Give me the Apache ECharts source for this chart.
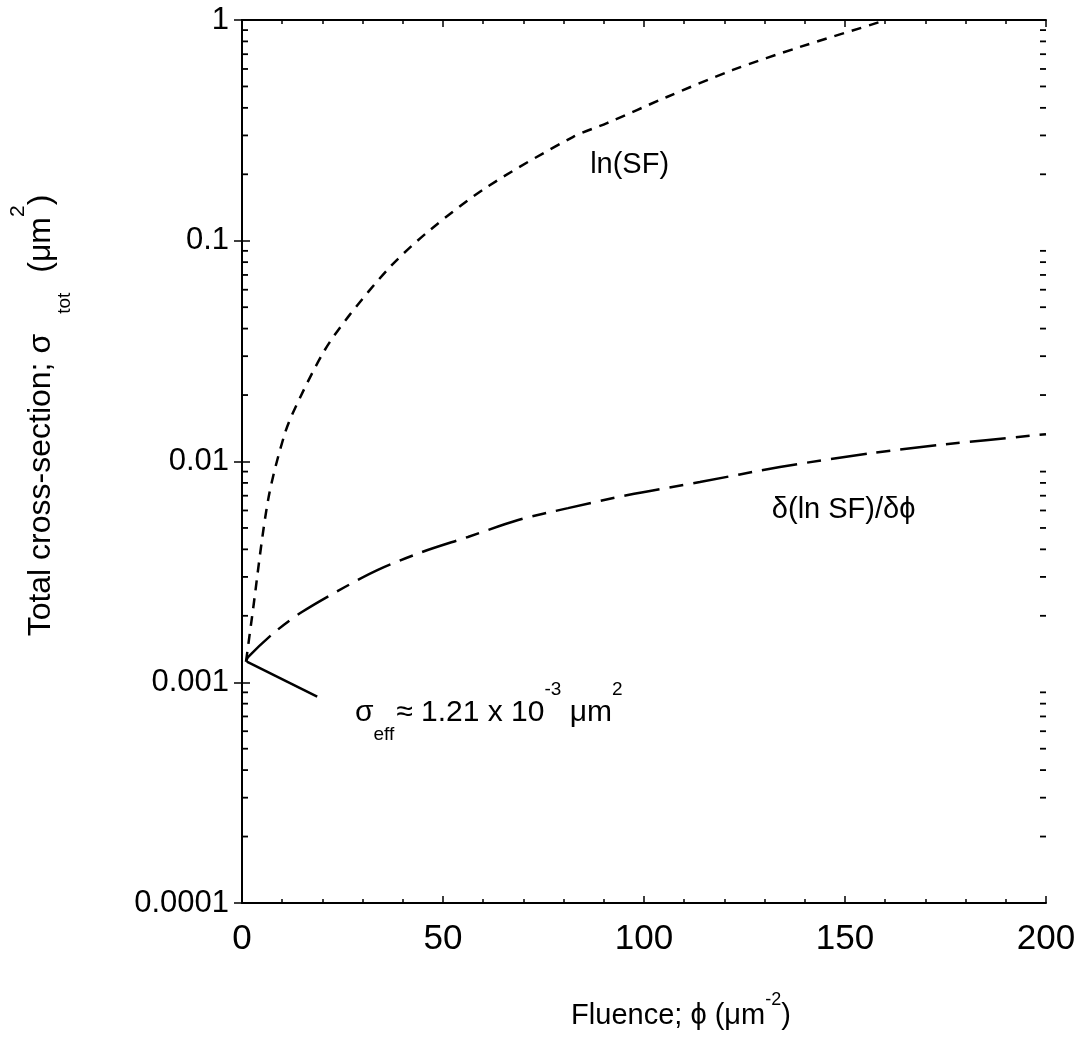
<!DOCTYPE html>
<html><head><meta charset="utf-8">
<script src="https://cdn.jsdelivr.net/npm/echarts@6/dist/echarts.min.js"></script>
<style>html,body{margin:0;padding:0;background:#fff}#c{width:1088px;height:1052px}</style>
</head><body><div id="c"></div>
<script>
// ---- data ----
const lnSF_x = [1, 2.5, 6.5, 10.7, 14.4, 20.6, 26.4, 36.8, 46.8, 60.9, 82.3, 90.8, 105.7, 122.1, 138.8, 158.7, 159.7];
const lnSF_y = [0.00124, 0.00198, 0.0067, 0.01346, 0.0194, 0.032, 0.0452, 0.076, 0.112, 0.175, 0.295, 0.341, 0.448, 0.594, 0.755, 0.98, 1.0];
const deriv_x = [1, 1.5, 8.2, 14.9, 25.6, 33.8, 44.8, 56.2, 68.7, 81.1, 96.0, 113.9, 133.8, 157.0, 173.6, 200];
const deriv_y = [0.00124, 0.0013, 0.00169, 0.00208, 0.0027, 0.00323, 0.00389, 0.00455, 0.00543, 0.00615, 0.00705, 0.00807, 0.00944, 0.01094, 0.01189, 0.0133];
const effLine_x = [1.2, 18.7];
const effLine_y = [0.00124, 0.00086];
const xTickLabels = ['0', '50', '100', '150', '200'];
const yTickValues = [0.0001, 0.001, 0.01, 0.1, 1];
const yTickLabels = ['0.0001', '0.001', '0.01', '0.1', '1'];
const yMinorMultipliers = [2, 3, 4, 5, 6, 7, 8, 9];
const yDecades = [0.0001, 0.001, 0.01, 0.1];
// annotation anchors (data coordinates)
const lnSFLabel = {x: 86.6, y: 0.22, text: 'ln(SF)'};
const derivLabel = {x: 131.8, y: 0.00603, text: 'δ(ln SF)/δϕ'};
const effLabel = {x: 28.1, y: 0.00073};

const yMinor = [];
yDecades.forEach(d => yMinorMultipliers.forEach(m => {
  const v = +(d * m).toPrecision(3);
  yMinor.push([0, v]);
  yMinor.push([200, v]);
}));

const FONT = '"Liberation Sans", Arial, Helvetica, sans-serif';
const chart = echarts.init(document.getElementById('c'), null, {renderer: 'canvas'});

const axisCommon = {
  axisLine: {show: true, lineStyle: {color: '#000', width: 2}},
  splitLine: {show: false},
};

const option = {
  backgroundColor: '#fff',
  animation: false,
  grid: {left: 242, right: 42, top: 20, bottom: 149, containLabel: false, outerBoundsMode: 'none'},
  xAxis: [{
    type: 'value', min: 0, max: 200, interval: 50, position: 'bottom',
    ...axisCommon,
    axisTick: {show: true, inside: true, length: 7, lineStyle: {color: '#000', width: 1.5}},
    minorTick: {show: true, splitNumber: 5, length: 4, lineStyle: {color: '#000', width: 1.5}},
    axisLabel: {
      margin: 19, fontSize: 35, color: '#000', fontFamily: FONT,
      formatter: (v) => xTickLabels[Math.round(v / 50)]
    },
    name: '{n|Fluence; ϕ (μm}{sup|-2}{n|)}',
    nameLocation: 'middle', nameGap: 88,
    nameTextStyle: {
      fontFamily: FONT, color: '#000', padding: [0, 0, 0, 74],
      rich: {
        n: {fontSize: 29, fontFamily: FONT, color: '#000', lineHeight: 50, verticalAlign: 'middle'},
        sup: {fontSize: 18, fontFamily: FONT, color: '#000', lineHeight: 34, verticalAlign: 'top'}
      }
    }
  }, {
    type: 'value', min: 0, max: 200, interval: 50, position: 'top',
    ...axisCommon,
    axisTick: {show: true, inside: true, length: 7, lineStyle: {color: '#000', width: 1.5}},
    minorTick: {show: true, splitNumber: 5, length: 4, lineStyle: {color: '#000', width: 1.5}},
    axisLabel: {show: false}
  }],
  yAxis: [{
    type: 'log', logBase: 10, min: 0.0001, max: 1, position: 'left',
    ...axisCommon,
    axisTick: {show: true, inside: true, length: 8, lineStyle: {color: '#000', width: 1.5}},
    axisLabel: {
      margin: 13, fontSize: 31, color: '#000', fontFamily: FONT,
      formatter: (v) => {
        const i = yTickValues.findIndex(t => Math.abs(Math.log10(t) - Math.log10(v)) < 1e-6);
        return i >= 0 ? yTickLabels[i] : '';
      }
    },
    name: '{n|Total cross-section; σ}{sub|tot}{n|(μm}{sup|2}{n|)}',
    nameLocation: 'middle', nameGap: 168, nameRotate: 90,
    nameTextStyle: {
      fontFamily: FONT, color: '#000', padding: [0, 0, 0, 92],
      rich: {
        n: {fontSize: 32, fontFamily: FONT, color: '#000', lineHeight: 66, verticalAlign: 'middle'},
        sub: {fontSize: 19, fontFamily: FONT, color: '#000', lineHeight: 14, verticalAlign: 'bottom', padding: [0, 20, 0, 20]},
        sup: {fontSize: 21, fontFamily: FONT, color: '#000', lineHeight: 30, verticalAlign: 'top'}
      }
    }
  }, {
    type: 'log', logBase: 10, min: 0.0001, max: 1, position: 'right',
    ...axisCommon,
    axisTick: {show: true, inside: true, length: 8, lineStyle: {color: '#000', width: 1.5}},
    axisLabel: {show: false}
  }],
  series: [{
    name: 'ln(SF)', type: 'line', xAxisIndex: 0, yAxisIndex: 0,
    data: lnSF_x.map((x, i) => [x, lnSF_y[i]]),
    smooth: 0.3, symbol: 'none',
    lineStyle: {color: '#000', width: 2.5, type: [10, 8]}
  }, {
    name: 'deriv', type: 'line', xAxisIndex: 0, yAxisIndex: 0,
    data: deriv_x.map((x, i) => [x, deriv_y[i]]),
    smooth: 0.3, symbol: 'none',
    lineStyle: {color: '#000', width: 2.5, type: [36, 10, 14, 10]}
  }, {
    name: 'eff', type: 'line', xAxisIndex: 0, yAxisIndex: 0,
    data: effLine_x.map((x, i) => [x, effLine_y[i]]),
    symbol: 'none',
    lineStyle: {color: '#000', width: 2.5}
  }, {
    name: 'minorY', type: 'custom', xAxisIndex: 0, yAxisIndex: 0,
    data: yMinor, encode: {x: 0, y: 1}, clip: false, z: 10,
    renderItem: function (params, api) {
      const xv = api.value(0);
      const v = api.value(1);
      const p = api.coord([xv, v]);
      const dir = xv < 100 ? 1 : -1;
      return {type: 'line', z2: 10, shape: {x1: p[0], y1: p[1], x2: p[0] + dir * 6, y2: p[1]},
        style: {stroke: '#000', lineWidth: 1.8}};
    }
  }]
};
chart.setOption(option);

const pLn = chart.convertToPixel({gridIndex: 0}, [lnSFLabel.x, lnSFLabel.y]);
const pDv = chart.convertToPixel({gridIndex: 0}, [derivLabel.x, derivLabel.y]);
const pEf = chart.convertToPixel({gridIndex: 0}, [effLabel.x, effLabel.y]);

chart.setOption({
  graphic: [{
    type: 'text', x: pLn[0], y: pLn[1],
    style: {text: lnSFLabel.text, font: '29px ' + FONT, fill: '#000', textAlign: 'left', textVerticalAlign: 'middle'}
  }, {
    type: 'text', x: pDv[0], y: pDv[1],
    style: {text: derivLabel.text, font: '29px ' + FONT, fill: '#000', textAlign: 'left', textVerticalAlign: 'middle'}
  }, {
    type: 'text', x: pEf[0], y: pEf[1],
    style: {
      text: '{n|σ}{sub|eff}{n|≈ 1.21 x 10}{sup|-3}{n| μm}{sup|2}',
      textAlign: 'left', textVerticalAlign: 'middle', fill: '#000',
      rich: {
        n: {fontSize: 30, fontFamily: FONT, fill: '#000', lineHeight: 64, verticalAlign: 'middle'},
        sub: {fontSize: 19, fontFamily: FONT, fill: '#000', lineHeight: 14, verticalAlign: 'bottom', padding: [0, 2, 0, 0]},
        sup: {fontSize: 19, fontFamily: FONT, fill: '#000', lineHeight: 34, verticalAlign: 'top'}
      }
    }
  }]
});
</script>
</body></html>
